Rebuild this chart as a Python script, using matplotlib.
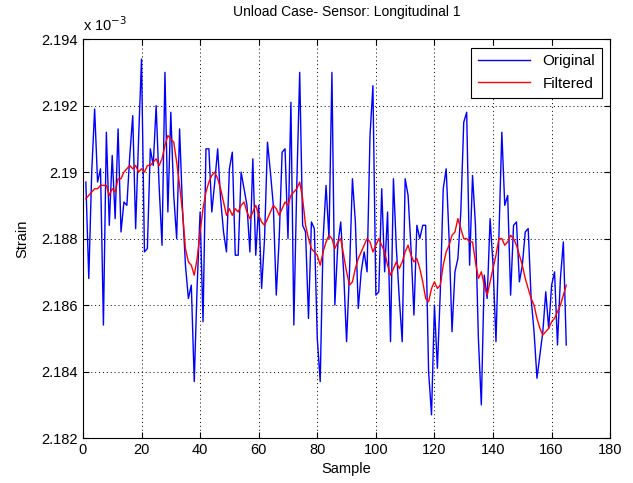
import numpy as np
import matplotlib
matplotlib.use('Agg')
import matplotlib.pyplot as plt
from matplotlib.ticker import FuncFormatter

# strain readings in units of 1e-3, one per sample (samples 1..165)
original = [
    2.1897, 2.1868, 2.1900, 2.1919, 2.1897, 2.1901, 2.1854, 2.1912, 2.1884, 2.1905,
    2.1886, 2.1913, 2.1882, 2.1891, 2.1890, 2.1905, 2.1917, 2.1883, 2.1910, 2.1934,
    2.1876, 2.1877, 2.1907, 2.1902, 2.1920, 2.1896, 2.1878, 2.1930, 2.1888, 2.1918,
    2.1893, 2.1880, 2.1913, 2.1889, 2.1872, 2.1862, 2.1866, 2.1837, 2.1866, 2.1888,
    2.1855, 2.1907, 2.1907, 2.1888, 2.1897, 2.1907, 2.1892, 2.1882, 2.1876, 2.1901,
    2.1906, 2.1875, 2.1875, 2.1900, 2.1895, 2.1890, 2.1876, 2.1904, 2.1875, 2.1890,
    2.1865, 2.1880, 2.1909, 2.1900, 2.1890, 2.1863, 2.1880, 2.1906, 2.1907, 2.1880,
    2.1921, 2.1854, 2.1896, 2.1930, 2.1884, 2.1882, 2.1856, 2.1885, 2.1883, 2.1850,
    2.1837, 2.1880, 2.1896, 2.1880, 2.1930, 2.1860, 2.1878, 2.1885, 2.1870, 2.1849,
    2.1870, 2.1898, 2.1885, 2.1859, 2.1870, 2.1876, 2.1870, 2.1911, 2.1926, 2.1863,
    2.1864, 2.1895, 2.1870, 2.1888, 2.1849, 2.1898, 2.1877, 2.1862, 2.1849, 2.1898,
    2.1893, 2.1877, 2.1857, 2.1884, 2.1880, 2.1884, 2.1884, 2.1840, 2.1827, 2.1860,
    2.1841, 2.1864, 2.1895, 2.1901, 2.1880, 2.1852, 2.1870, 2.1874, 2.1888, 2.1915,
    2.1918, 2.1872, 2.1899, 2.1884, 2.1850, 2.1830, 2.1869, 2.1862, 2.1886, 2.1872,
    2.1849, 2.1880, 2.1912, 2.1890, 2.1893, 2.1863, 2.1884, 2.1885, 2.1867, 2.1872,
    2.1882, 2.1883, 2.1862, 2.1852, 2.1838, 2.1845, 2.1852, 2.1864, 2.1853, 2.1866,
    2.1870, 2.1848, 2.1868, 2.1879, 2.1848,
]

filtered = [
    2.1892, 2.1893, 2.1894, 2.1895, 2.1895, 2.1896, 2.1896, 2.1896, 2.1893, 2.1895,
    2.1894, 2.1898, 2.1898, 2.1900, 2.1901, 2.1902, 2.1901, 2.1902, 2.1900, 2.1901,
    2.1900, 2.1902, 2.1902, 2.1903, 2.1904, 2.1902, 2.1904, 2.1908, 2.1911, 2.1910,
    2.1909, 2.1903, 2.1896, 2.1888, 2.1877, 2.1873, 2.1872, 2.1869, 2.1874, 2.1882,
    2.1889, 2.1894, 2.1897, 2.1899, 2.1900, 2.1898, 2.1895, 2.1891, 2.1887, 2.1889,
    2.1887, 2.1889, 2.1888, 2.1890, 2.1891, 2.1888, 2.1886, 2.1888, 2.1890, 2.1887,
    2.1885, 2.1884, 2.1886, 2.1888, 2.1890, 2.1889, 2.1887, 2.1889, 2.1891, 2.1890,
    2.1893, 2.1894, 2.1895, 2.1897, 2.1892, 2.1884, 2.1880, 2.1877, 2.1876, 2.1875,
    2.1872, 2.1876, 2.1879, 2.1881, 2.1880, 2.1877, 2.1879, 2.1880, 2.1875, 2.1870,
    2.1866, 2.1867, 2.1871, 2.1874, 2.1876, 2.1878, 2.1880, 2.1879, 2.1876, 2.1878,
    2.1880, 2.1878, 2.1876, 2.1872, 2.1869, 2.1871, 2.1873, 2.1871, 2.1873, 2.1876,
    2.1878, 2.1875, 2.1873, 2.1874, 2.1871, 2.1867, 2.1862, 2.1861, 2.1865, 2.1867,
    2.1865, 2.1866, 2.1872, 2.1876, 2.1878, 2.1881, 2.1882, 2.1886, 2.1883, 2.1880,
    2.1880, 2.1879, 2.1879, 2.1873, 2.1868, 2.1870, 2.1866, 2.1863, 2.1867, 2.1871,
    2.1875, 2.1880, 2.1880, 2.1878, 2.1879, 2.1881, 2.1880, 2.1878, 2.1875, 2.1872,
    2.1868, 2.1865, 2.1862, 2.1860, 2.1856, 2.1853, 2.1851, 2.1852, 2.1853, 2.1855,
    2.1856, 2.1858, 2.1860, 2.1863, 2.1866,
]

sample = np.arange(1, len(original) + 1)

plt.rcParams['font.family'] = ['Liberation Sans', 'DejaVu Sans']
plt.rcParams['font.size'] = 10

fig = plt.figure(figsize=(6.33, 4.83), dpi=100)
ax = fig.add_axes([0.131, 0.093, 0.833, 0.826])

ax.plot(sample, original, color='#0000ff', linewidth=1.0, label='Original')
ax.plot(sample, filtered, color='#ff0000', linewidth=1.0, label='Filtered')

ax.set_xlim(0, 180)
ax.set_ylim(2.182, 2.194)
ax.set_xticks(np.arange(0, 181, 20))
ax.set_yticks(np.arange(2.182, 2.1941, 0.002))
ax.yaxis.set_major_formatter(FuncFormatter(lambda v, _: f'{v:.3f}'.rstrip('0')))

ax.grid(True, color='black', linestyle=(0, (1, 3)), linewidth=0.7)
ax.tick_params(direction='in', top=True, right=True, length=4, labelsize=10.5)
for spine in ax.spines.values():
    spine.set_linewidth(0.8)

ax.set_title('Unload Case- Sensor: Longitudinal 1', fontsize=10, pad=17)
ax.set_xlabel('Sample', fontsize=10.5, labelpad=4)
ax.set_ylabel('Strain', fontsize=10.5, labelpad=9)
ax.text(0.0, 1.012, r'x 10$^{-3}$', transform=ax.transAxes, fontsize=10.5,
        ha='left', va='bottom')

leg = ax.legend(loc='upper right', fancybox=False, framealpha=1,
                edgecolor='black', fontsize=11, handlelength=3.4,
                borderaxespad=0.55, labelspacing=0.55, borderpad=0.45)
leg.get_frame().set_linewidth(0.8)

fig.savefig('out.png', dpi=100)
